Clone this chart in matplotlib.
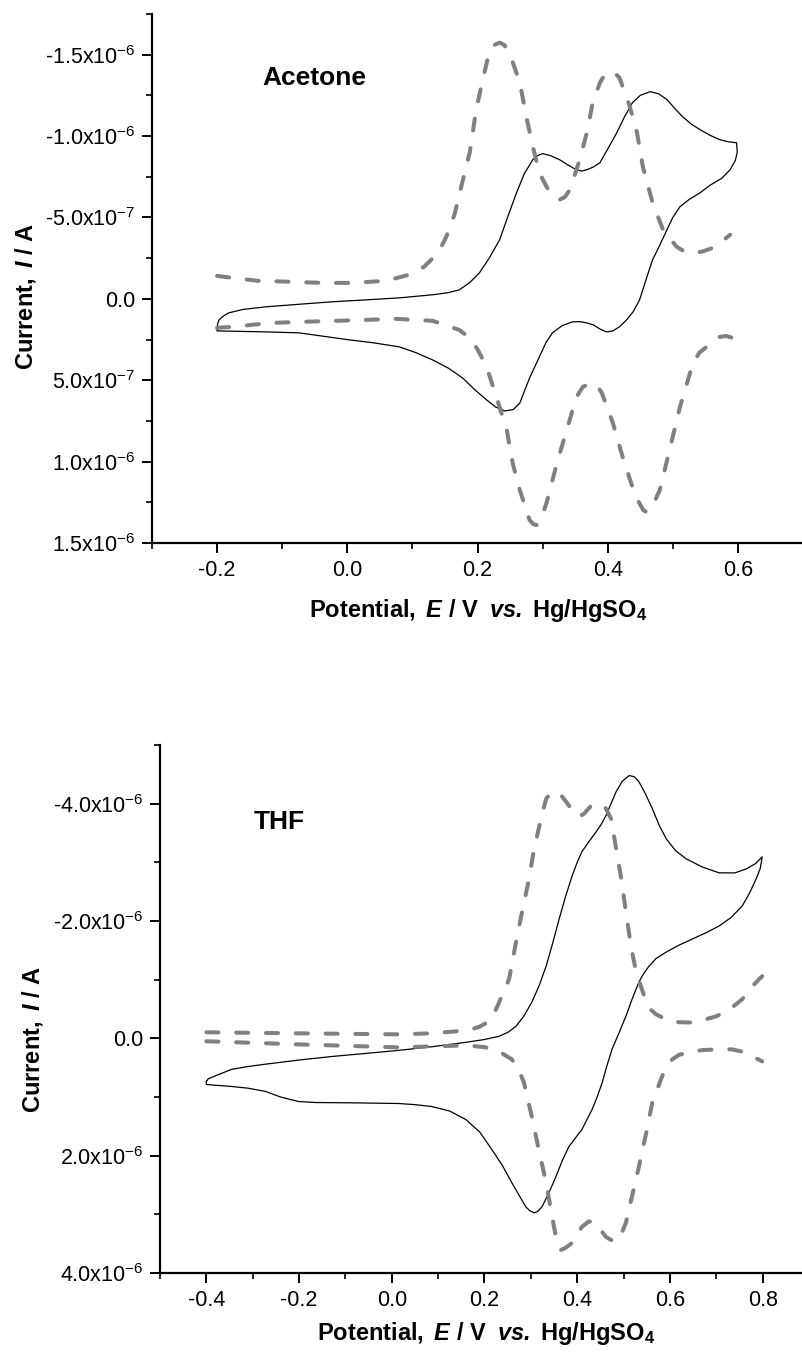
import numpy as np
import matplotlib
matplotlib.use("Agg")
import matplotlib.pyplot as plt
from matplotlib.ticker import MultipleLocator

plt.rcParams['font.family'] = ['Liberation Sans', 'DejaVu Sans']
plt.rcParams['mathtext.fontset'] = 'custom'
plt.rcParams['mathtext.rm'] = 'Liberation Sans'
plt.rcParams['mathtext.it'] = 'Liberation Sans:italic'
plt.rcParams['mathtext.bf'] = 'Liberation Sans:bold'
plt.rcParams['mathtext.bfit'] = 'Liberation Sans:italic:bold'

# ---------------- Acetone (top panel) ----------------  current in 1e-6 A
ace_cv_E = [-0.200, -0.199, -0.197, -0.190, -0.182, -0.160, -0.125, -0.070, -0.023, 0.030,
            0.080, 0.131, 0.155, 0.172, 0.188, 0.203, 0.218, 0.234, 0.247, 0.260,
            0.272, 0.285, 0.292, 0.300, 0.312, 0.326, 0.340, 0.352, 0.360, 0.368,
            0.378, 0.388, 0.400, 0.414, 0.426, 0.438, 0.450, 0.465, 0.478, 0.491,
            0.503, 0.515, 0.528, 0.542, 0.557, 0.572, 0.585, 0.598,
            0.599, 0.596, 0.588, 0.575, 0.558, 0.542, 0.525, 0.511, 0.500, 0.491,
            0.480, 0.469, 0.459, 0.449, 0.439, 0.429, 0.418, 0.408, 0.398, 0.388,
            0.378, 0.368, 0.357, 0.346, 0.330, 0.315, 0.305, 0.295, 0.280, 0.265,
            0.255, 0.242, 0.228, 0.214, 0.195, 0.177, 0.155, 0.131, 0.105, 0.080,
            0.040, 0.003, -0.074, -0.125, -0.200, -0.200]
ace_cv_I = [0.178, 0.150, 0.129, 0.105, 0.086, 0.065, 0.049, 0.032, 0.018, 0.006,
            -0.006, -0.025, -0.038, -0.055, -0.100, -0.160, -0.250, -0.363, -0.510, -0.652,
            -0.770, -0.855, -0.880, -0.892, -0.880, -0.855, -0.820, -0.793, -0.785, -0.793,
            -0.810, -0.836, -0.920, -1.021, -1.120, -1.205, -1.250, -1.273, -1.260, -1.224,
            -1.170, -1.119, -1.075, -1.039, -1.005, -0.978, -0.965, -0.959,
            -0.900, -0.850, -0.793, -0.740, -0.700, -0.652, -0.610, -0.566, -0.500, -0.424,
            -0.330, -0.240, -0.120, 0.006, 0.080, 0.129, 0.172, 0.197, 0.203, 0.185,
            0.160, 0.148, 0.140, 0.141, 0.165, 0.209, 0.270, 0.357, 0.486, 0.640,
            0.680, 0.689, 0.665, 0.621, 0.555, 0.486, 0.425, 0.375, 0.330, 0.295,
            0.270, 0.252, 0.209, 0.203, 0.197, 0.178]

ace_dash_fwd_E = [-0.200, -0.177, -0.138, -0.089, -0.038, 0.008, 0.060, 0.095, 0.118, 0.130,
                  0.142, 0.152, 0.165, 0.175, 0.188, 0.198, 0.208, 0.218, 0.226, 0.234,
                  0.241, 0.249, 0.265, 0.275, 0.285, 0.295, 0.306, 0.315, 0.326, 0.334,
                  0.342, 0.357, 0.368, 0.377, 0.388, 0.396, 0.403, 0.410, 0.418, 0.434,
                  0.445, 0.454, 0.469, 0.485, 0.506, 0.518, 0.531, 0.545, 0.562, 0.575,
                  0.588]
ace_dash_fwd_I = [-0.141, -0.129, -0.111, -0.105, -0.098, -0.098, -0.111, -0.148, -0.197, -0.245,
                  -0.301, -0.381, -0.523, -0.689, -0.898, -1.162, -1.347, -1.513, -1.560, -1.574,
                  -1.560, -1.513, -1.328, -1.119, -0.935, -0.775, -0.689, -0.633, -0.609, -0.625,
                  -0.670, -0.855, -1.021, -1.205, -1.328, -1.380, -1.396, -1.390, -1.359, -1.181,
                  -1.021, -0.812, -0.590, -0.424, -0.320, -0.290, -0.283, -0.290, -0.314, -0.350,
                  -0.394]

ace_dash_rev_E = [-0.200, -0.177, -0.117, -0.069, -0.017, 0.029, 0.075, 0.131, 0.150, 0.172,
                  0.188, 0.200, 0.214, 0.229, 0.245, 0.254, 0.265, 0.280, 0.286, 0.291,
                  0.298, 0.306, 0.322, 0.337, 0.352, 0.362, 0.375, 0.384, 0.391, 0.408,
                  0.423, 0.438, 0.448, 0.455, 0.460, 0.468, 0.480, 0.495, 0.511, 0.531,
                  0.541, 0.552, 0.562, 0.572, 0.582, 0.592]
ace_dash_rev_I = [0.178, 0.172, 0.148, 0.141, 0.135, 0.129, 0.123, 0.135, 0.160, 0.191,
                  0.240, 0.310, 0.418, 0.603, 0.806, 1.009, 1.175, 1.359, 1.385, 1.390,
                  1.345, 1.255, 1.009, 0.806, 0.603, 0.540, 0.517, 0.535, 0.578, 0.763,
                  0.972, 1.156, 1.250, 1.300, 1.310, 1.280, 1.175, 0.929, 0.664, 0.394,
                  0.330, 0.295, 0.255, 0.234, 0.228, 0.240]

# ---------------- THF (bottom panel) ----------------
thf_cv_E = [-0.400, -0.396, -0.384, -0.365, -0.346, -0.310, -0.272, -0.200, -0.130, -0.060,
            0.015, 0.090, 0.160, 0.200, 0.231, 0.250, 0.268, 0.285, 0.302, 0.318,
            0.333, 0.347, 0.361, 0.375, 0.389, 0.400, 0.410, 0.425, 0.441, 0.452,
            0.462, 0.473, 0.484, 0.497, 0.512, 0.523, 0.533, 0.547, 0.562, 0.577,
            0.592, 0.612, 0.635, 0.670, 0.706, 0.740, 0.765, 0.785, 0.799,
            0.795, 0.786, 0.772, 0.756, 0.732, 0.706, 0.678, 0.648, 0.620, 0.592,
            0.570, 0.555, 0.543, 0.533, 0.518, 0.505, 0.490, 0.475, 0.464, 0.454,
            0.443, 0.432, 0.420, 0.410, 0.396, 0.382, 0.368, 0.354, 0.338, 0.324,
            0.315, 0.307, 0.298, 0.289, 0.275, 0.259, 0.238, 0.216, 0.190, 0.160,
            0.125, 0.086, 0.050, 0.015, -0.080, -0.164, -0.201, -0.240, -0.272, -0.310,
            -0.346, -0.380, -0.400, -0.400]
thf_cv_I = [0.735, 0.690, 0.650, 0.590, 0.530, 0.480, 0.440, 0.370, 0.310, 0.260,
            0.205, 0.140, 0.068, 0.020, -0.034, -0.100, -0.205, -0.380, -0.615, -0.900,
            -1.231, -1.620, -2.034, -2.420, -2.769, -3.000, -3.180, -3.350, -3.521, -3.650,
            -3.795, -4.000, -4.205, -4.380, -4.479, -4.460, -4.376, -4.170, -3.915, -3.630,
            -3.402, -3.200, -3.060, -2.920, -2.821, -2.820, -2.889, -2.980, -3.094,
            -2.900, -2.718, -2.480, -2.256, -2.060, -1.915, -1.800, -1.692, -1.590, -1.470,
            -1.360, -1.231, -1.100, -0.957, -0.660, -0.376, -0.090, 0.188, 0.470, 0.752,
            1.000, 1.214, 1.400, 1.556, 1.700, 1.846, 2.080, 2.359, 2.650, 2.872,
            2.950, 2.974, 2.940, 2.872, 2.680, 2.462, 2.160, 1.897, 1.600, 1.385,
            1.240, 1.162, 1.130, 1.111, 1.100, 1.094, 1.077, 1.000, 0.906, 0.850,
            0.820, 0.800, 0.786, 0.735]

thf_dash_fwd_E = [-0.400, -0.201, 0.015, 0.086, 0.166, 0.190, 0.210, 0.225, 0.253, 0.268,
                  0.281, 0.296, 0.307, 0.322, 0.333, 0.343, 0.354, 0.363, 0.371, 0.387,
                  0.396, 0.404, 0.415, 0.430, 0.445, 0.455, 0.462, 0.473, 0.484, 0.495,
                  0.505, 0.516, 0.527, 0.549, 0.560, 0.570, 0.595, 0.620, 0.643, 0.663,
                  0.700, 0.730, 0.756, 0.778, 0.799]
thf_dash_fwd_I = [-0.103, -0.085, -0.068, -0.085, -0.137, -0.200, -0.290, -0.496, -1.009, -1.641,
                  -2.154, -2.718, -3.231, -3.744, -4.085, -4.180, -4.205, -4.170, -4.085, -3.915,
                  -3.820, -3.778, -3.830, -3.966, -4.000, -3.980, -3.915, -3.744, -3.231, -2.718,
                  -2.154, -1.573, -1.128, -0.615, -0.480, -0.410, -0.310, -0.274, -0.270, -0.291,
                  -0.376, -0.500, -0.667, -0.889, -1.060]

thf_dash_rev_E = [-0.400, -0.201, 0.015, 0.160, 0.200, 0.231, 0.259, 0.273, 0.285, 0.302,
                  0.317, 0.333, 0.346, 0.354, 0.360, 0.365, 0.375, 0.389, 0.410, 0.425,
                  0.441, 0.452, 0.462, 0.476, 0.490, 0.505, 0.518, 0.533, 0.549, 0.562,
                  0.583, 0.595, 0.605, 0.620, 0.641, 0.670, 0.706, 0.734, 0.758, 0.778,
                  0.799]
thf_dash_rev_I = [0.050, 0.103, 0.154, 0.120, 0.150, 0.222, 0.359, 0.520, 0.752, 1.333,
                  1.897, 2.462, 3.043, 3.385, 3.530, 3.607, 3.570, 3.487, 3.214, 3.120,
                  3.145, 3.280, 3.385, 3.450, 3.436, 3.145, 2.701, 2.188, 1.607, 1.094,
                  0.650, 0.450, 0.359, 0.280, 0.239, 0.200, 0.188, 0.188, 0.230, 0.308,
                  0.393]

ace_yticks = [-1.5e-6, -1.0e-6, -5.0e-7, 0.0, 5.0e-7, 1.0e-6, 1.5e-6]
ace_yticklabels = [r'-1.5x10$^{\mathregular{-6}}$', r'-1.0x10$^{\mathregular{-6}}$',
                   r'-5.0x10$^{\mathregular{-7}}$', '0.0', r'5.0x10$^{\mathregular{-7}}$',
                   r'1.0x10$^{\mathregular{-6}}$', r'1.5x10$^{\mathregular{-6}}$']
ace_xticks = [-0.2, 0.0, 0.2, 0.4, 0.6]
ace_xticklabels = ['-0.2', '0.0', '0.2', '0.4', '0.6']

thf_yticks = [-4.0e-6, -2.0e-6, 0.0, 2.0e-6, 4.0e-6]
thf_yticklabels = [r'-4.0x10$^{\mathregular{-6}}$', r'-2.0x10$^{\mathregular{-6}}$', '0.0',
                   r'2.0x10$^{\mathregular{-6}}$', r'4.0x10$^{\mathregular{-6}}$']
thf_xticks = [-0.4, -0.2, 0.0, 0.2, 0.4, 0.6, 0.8]
thf_xticklabels = ['-0.4', '-0.2', '0.0', '0.2', '0.4', '0.6', '0.8']

W, H = 802, 1355
fig = plt.figure(figsize=(W / 100, H / 100), dpi=100)

def px_axes(l, r, t, b):
    return fig.add_axes([l / W, 1 - b / H, (r - l) / W, (b - t) / H])

ax1 = px_axes(152, 803, 14, 543)
ax2 = px_axes(160, 809, 745, 1273)

gray = '#808080'
dash_kw = dict(color=gray, lw=2.9, dashes=(3.0, 4.4), dash_capstyle='round',
               solid_capstyle='round', solid_joinstyle='round', dash_joinstyle='round')
cv_kw = dict(color='black', lw=0.9, solid_joinstyle='round')

ax1.plot(ace_cv_E, np.array(ace_cv_I) * 1e-6, **cv_kw)
ax1.plot(ace_dash_fwd_E, np.array(ace_dash_fwd_I) * 1e-6, **dash_kw)
ax1.plot(ace_dash_rev_E, np.array(ace_dash_rev_I) * 1e-6, **dash_kw)
ax1.set_xlim(-0.3, 0.7)
ax1.set_ylim(1.5e-6, -1.75e-6)
ax1.set_yticks(ace_yticks, ace_yticklabels)
ax1.set_xticks(ace_xticks, ace_xticklabels)
ax1.xaxis.set_minor_locator(MultipleLocator(0.1))
ax1.yaxis.set_minor_locator(MultipleLocator(2.5e-7))
ax1.text(-0.131, -1.316e-6, 'Acetone', fontsize=19, fontweight='bold', ha='left', va='baseline')

ax2.plot(thf_cv_E, np.array(thf_cv_I) * 1e-6, **cv_kw)
ax2.plot(thf_dash_fwd_E, np.array(thf_dash_fwd_I) * 1e-6, **dash_kw)
ax2.plot(thf_dash_rev_E, np.array(thf_dash_rev_I) * 1e-6, **dash_kw)
ax2.set_xlim(-0.5, 0.9)
ax2.set_ylim(4.0e-6, -5.0e-6)
ax2.set_yticks(thf_yticks, thf_yticklabels)
ax2.set_xticks(thf_xticks, thf_xticklabels)
ax2.xaxis.set_minor_locator(MultipleLocator(0.1))
ax2.yaxis.set_minor_locator(MultipleLocator(1e-6))
ax2.text(-0.298, -3.57e-6, 'THF', fontsize=19, fontweight='bold', ha='left', va='baseline')

for ax in (ax1, ax2):
    for s in ('top', 'right'):
        ax.spines[s].set_visible(False)
    for s in ('left', 'bottom'):
        ax.spines[s].set_linewidth(1.6)
    ax.tick_params(which='major', direction='out', length=7, width=1.4, labelsize=15.5, pad=5)
    ax.tick_params(which='minor', direction='out', length=4.5, width=1.2)

xlabel = r'$\mathbf{Potential,\ }\mathbfit{E}\mathbf{\ /\ V\ \;}\mathbfit{vs.}\mathbf{\ Hg/HgSO_4}$'
ylabel = r'$\mathbf{Current,\ }\mathbfit{I}\mathbf{\ /\ A}$'

fig.text(478 / W, 1 - 617 / H, xlabel, fontsize=17, ha='center', va='baseline')
fig.text(486 / W, 1 - 1340 / H, xlabel, fontsize=17, ha='center', va='baseline')
fig.text(26 / W, 1 - 296 / H, ylabel, fontsize=17, ha='center', va='center', rotation=90)
fig.text(33 / W, 1 - 1039 / H, ylabel, fontsize=17, ha='center', va='center', rotation=90)

fig.savefig('out.png', dpi=100)
